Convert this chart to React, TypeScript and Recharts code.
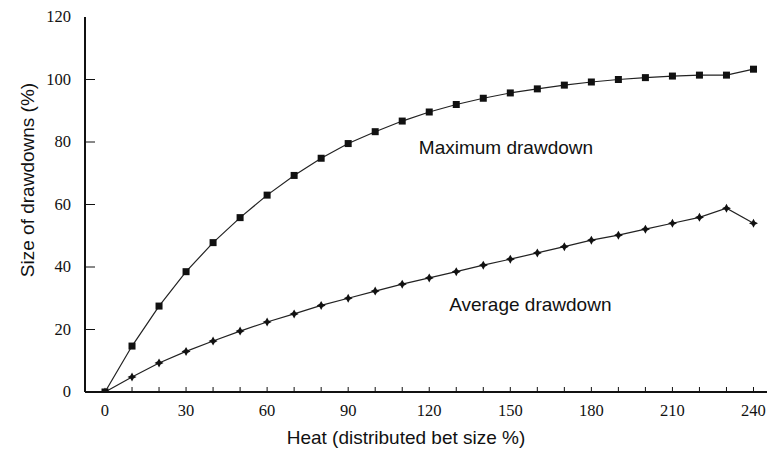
import React from 'react';
import { LineChart, Line, XAxis, YAxis, ReferenceDot } from 'recharts';

const heat = [0, 10, 20, 30, 40, 50, 60, 70, 80, 90, 100, 110, 120, 130, 140, 150, 160, 170, 180, 190, 200, 210, 220, 230, 240];
const maxDrawdown = [0, 14.7, 27.5, 38.5, 47.8, 55.8, 63, 69.3, 74.8, 79.5, 83.3, 86.7, 89.6, 92, 94, 95.7, 97, 98.2, 99.2, 100, 100.6, 101.1, 101.4, 101.4, 103.3];
const avgDrawdown = [0, 4.8, 9.3, 13, 16.3, 19.5, 22.4, 25, 27.7, 30, 32.3, 34.5, 36.5, 38.5, 40.6, 42.5, 44.5, 46.5, 48.6, 50.2, 52.1, 54, 55.9, 58.8, 54];
const xTicks = [0, 10, 20, 30, 40, 50, 60, 70, 80, 90, 100, 110, 120, 130, 140, 150, 160, 170, 180, 190, 200, 210, 220, 230, 240];
const yTicks = [0, 20, 40, 60, 80, 100, 120];

const data = heat.map((h, i) => ({ heat: h, max: maxDrawdown[i], avg: avgDrawdown[i] }));

const SERIF = '"Liberation Serif", "DejaVu Serif", serif';
const SANS = '"Liberation Sans", Arial, sans-serif';

const XTick = (props: any) => {
  const { x, y, payload } = props;
  const v = payload.value;
  return (
    <g>
      {v !== 0 && <line x1={x} y1={y} x2={x} y2={y - 5} stroke="#111" strokeWidth={1} />}
      {v % 30 === 0 && (
        <text x={x} y={y + 24} textAnchor="middle" fontFamily={SERIF} fontSize={16.5} fill="#111">
          {v}
        </text>
      )}
    </g>
  );
};

const YTick = (props: any) => {
  const { x, y, payload } = props;
  return (
    <g>
      {payload.value !== 0 && payload.value !== 120 && (
        <line x1={x} y1={y} x2={x + 10} y2={y} stroke="#111" strokeWidth={1} />
      )}
      <text x={x - 14} y={y + 5} textAnchor="end" fontFamily={SERIF} fontSize={16.5} fill="#111">
        {payload.value}
      </text>
    </g>
  );
};

const SquareDot = (props: any) => {
  const { cx, cy } = props;
  if (cx == null || cy == null) return null;
  return <rect x={cx - 3.5} y={cy - 3.5} width={7} height={7} fill="#111" />;
};

const StarDot = (props: any) => {
  const { cx, cy } = props;
  if (cx == null || cy == null) return null;
  const r = 4.5;
  const q = 1.6;
  const d = `M${cx},${cy - r} L${cx + q},${cy - q} L${cx + r},${cy} L${cx + q},${cy + q} L${cx},${cy + r} L${cx - q},${cy + q} L${cx - r},${cy} L${cx - q},${cy - q} Z`;
  return <path d={d} fill="#111" />;
};

export default function App() {
  return (
    <div style={{ position: 'absolute', left: 0, top: 0, background: '#fff' }}>
      <LineChart width={769} height={451} data={data} margin={{ top: 17, right: 2, bottom: 0, left: 0 }}>
        <XAxis
          dataKey="heat"
          type="number"
          domain={[-7.4, 245]}
          ticks={xTicks}
          interval={0}
          tick={<XTick />}
          tickLine={false}
          tickSize={0}
          tickMargin={0}
          axisLine={{ stroke: '#111', strokeWidth: 2 }}
          height={59}
          allowDataOverflow
        />
        <YAxis
          type="number"
          domain={[0, 120]}
          ticks={yTicks}
          interval={0}
          tick={<YTick />}
          tickLine={false}
          tickSize={0}
          tickMargin={0}
          axisLine={{ stroke: '#111', strokeWidth: 2 }}
          width={85}
          allowDataOverflow
        />
        <Line dataKey="max" stroke="#222" strokeWidth={1.2} dot={<SquareDot />} activeDot={false} isAnimationActive={false} />
        <Line dataKey="avg" stroke="#222" strokeWidth={1.2} dot={<StarDot />} activeDot={false} isAnimationActive={false} />
        <ReferenceDot
          x={148.4}
          y={78.4}
          r={0}
          fill="none"
          stroke="none"
          label={{ value: 'Maximum drawdown', position: 'center', fontFamily: SANS, fontSize: 19, fill: '#111' }}
        />
        <ReferenceDot
          x={157.4}
          y={28.2}
          r={0}
          fill="none"
          stroke="none"
          label={{ value: 'Average drawdown', position: 'center', fontFamily: SANS, fontSize: 19, fill: '#111' }}
        />
        <text x={406} y={444} textAnchor="middle" fontFamily={SANS} fontSize={19} fill="#111">
          Heat (distributed bet size %)
        </text>
        <text
          x={34}
          y={180}
          transform="rotate(-90 34 180)"
          textAnchor="middle"
          fontFamily={SANS}
          fontSize={19}
          fill="#111"
        >
          Size of drawdowns (%)
        </text>
      </LineChart>
    </div>
  );
}
